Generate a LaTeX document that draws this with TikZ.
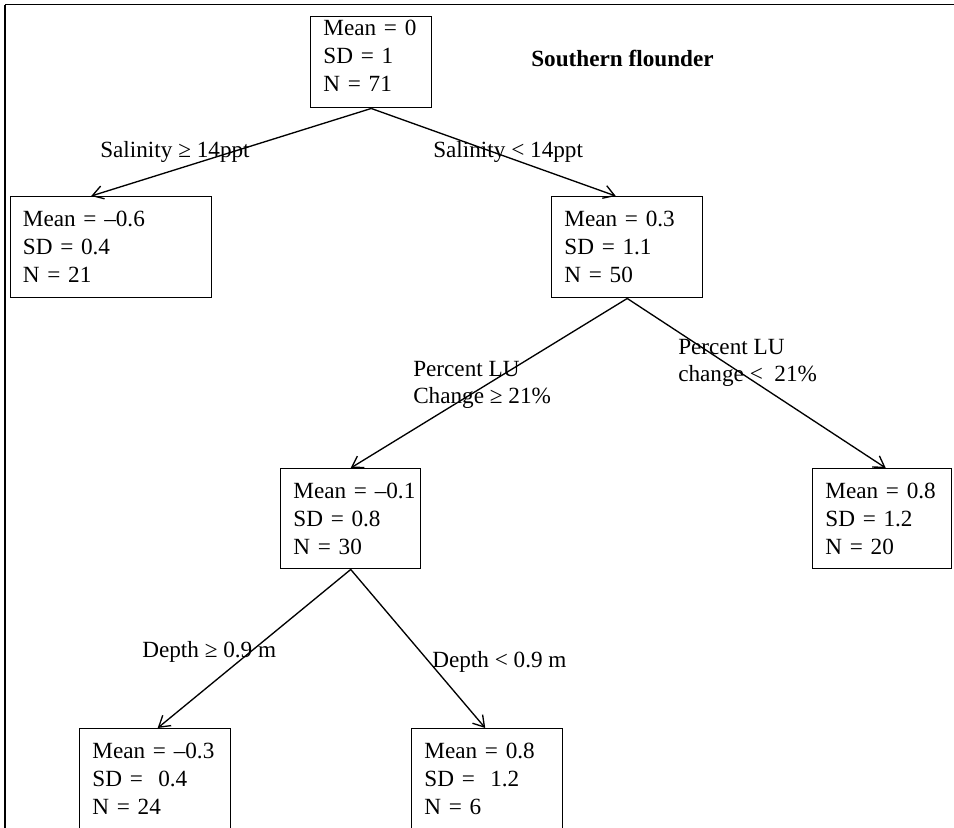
\documentclass[tikz,border=0pt]{standalone}
\usepackage{fontspec}
\setmainfont{Liberation Serif}
\usetikzlibrary{arrows.meta,calc}
\begin{document}
\begin{tikzpicture}[x=0.75pt,y=-0.75pt,
  treebox/.style={draw, line width=1.1pt, rectangle, anchor=north west, align=left,
    inner xsep=9.5pt, inner ysep=0pt, font=\fontsize{17.4}{21}\selectfont},
  split/.style={line width=1pt, -{Straight Barb[length=8pt,width=10pt]}},
  cond/.style={inner sep=0pt, font=\fontsize{17.4}{20}\selectfont, align=left}]
\useasboundingbox (0,0) rectangle (954,828);
\clip (0,0) rectangle (954,827);
% frame
\draw[line width=1.1pt] (5,4.5) -- (954,4.5) (5,4.5) -- (5,828);
% tree boxes
\node[treebox, text width=71.75pt, minimum height=68.25pt] (root) at (310,16)
  {Mean = 0\\SD = 1\\N = 71\rule[-9pt]{0pt}{0pt}};
\node[treebox, text width=131.75pt, minimum height=75.75pt] (l1a) at (9.5,196)
  {Mean = –0.6\\SD = 0.4\\N = 21};
\node[treebox, text width=94.25pt, minimum height=75.75pt] (l1b) at (551,196)
  {Mean = 0.3\\SD = 1.1\\N = 50};
\node[treebox, text width=86pt, minimum height=75pt] (l2a) at (280,468)
  {\mbox{Mean = –0.1}\\SD = 0.8\\N = 30};
\node[treebox, text width=85.25pt, minimum height=75pt] (l2b) at (812,468)
  {\mbox{Mean = 0.8}\\SD = 1.2\\N = 20};
\node[treebox, text width=94.25pt, minimum height=75pt] (l3a) at (79,728)
  {\mbox{Mean = –0.3}\\SD = \ 0.4\\N = 24};
\node[treebox, text width=94.25pt, minimum height=75pt] (l3b) at (411,728)
  {\mbox{Mean = 0.8}\\SD = \ 1.2\\N = 6};
% title
\node[cond, anchor=base west, font=\fontsize{17.4}{20}\selectfont\bfseries] (title) at (531,66) {Southern flounder};
% split conditions
\node[cond, anchor=base west] (c1) at (100,157) {Salinity ≥ 14ppt};
\node[cond, anchor=base west] (c2) at (433,157) {Salinity < 14ppt};
\node[cond, anchor=north west] (c3) at (413,361.5) {Percent LU\\Change ≥ 21\%};
\node[cond, anchor=north west] (c4) at (678,339.5) {Percent LU\\change <\ \ 21\%};
\node[cond, anchor=base west] (c5) at (142,657) {Depth ≥ 0.9 m};
\node[cond, anchor=base west] (c6) at (432,667) {Depth < 0.9 m};
% connectors
\draw[split] (root.south) -- ($(l1a.north)+(-19.5,0)$);
\draw[split] (root.south) -- ($(l1b.north)+(-11.5,0)$);
\draw[split] (l1b.south) -- (l2a.north);
\draw[split] (l1b.south) -- ($(l2b.north)+(3.5,0)$);
\draw[split] (l2a.south) -- ($(l3a.north)+(2.5,0)$);
\draw[split] (l2a.south) -- ($(l3b.north)+(-2,0)$);
\end{tikzpicture}
\end{document}
